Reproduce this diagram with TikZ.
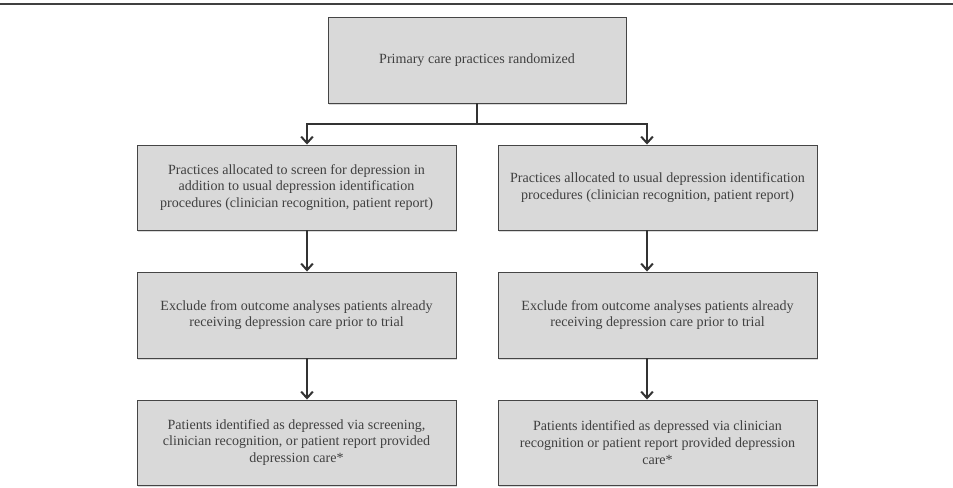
\documentclass[tikz,border=0pt]{standalone}
\usepackage{fontspec}
\setmainfont{Liberation Serif}
\usepackage{tikz}
\usetikzlibrary{arrows.meta,positioning,shadows,calc}

\definecolor{boxfill}{HTML}{D9D9D9}
\definecolor{boxline}{HTML}{454545}
\definecolor{boxtext}{HTML}{404040}

\begin{document}
\begin{tikzpicture}[x=0.03cm, y=-0.03cm,
		stagebox/.style={draw=boxline, line width=0.8pt, fill=boxfill, text=boxtext,
			minimum width=9.57cm, minimum height=2.55cm, inner sep=0pt, align=center,
			font=\fontsize{12}{14.2}\selectfont,
			drop shadow={shadow xshift=1.2pt, shadow yshift=-1.5pt, fill=black!25, opacity=0.6}},
		flow/.style={draw=black!80, line width=1.7pt, -{Straight Barb[length=5.5pt, width=10pt, line width=1.7pt]}}]
				% Frame and margins
				\useasboundingbox (0,0) rectangle (953,488);
				\draw[black!75, line width=1.1pt] (0,4) -- (953,4);
				
				% Randomization
				\node[stagebox, minimum width=8.94cm, minimum height=2.58cm] (rand) at (477,60) {Primary care practices randomized};
				\coordinate (split) at (477,124);
				
				% Screening arm
				\node[stagebox] (scrAlloc) at (296.5,187.5) {Practices allocated to screen for depression in\\addition to usual depression identification\\procedures (clinician recognition, patient report)};
				\node[stagebox, minimum height=2.58cm] (scrExcl) at (296.5,315) {Exclude from outcome analyses patients already\\receiving depression care prior to trial};
				\node[stagebox] (scrCare) at (296.5,442.5) {Patients identified as depressed via screening,\\clinician recognition, or patient report provided\\depression care*};
				
				% Usual care arm
				\node[stagebox] (usAlloc) at (657.5,187.5) {Practices allocated to usual depression identification\\procedures (clinician recognition, patient report)};
				\node[stagebox, minimum height=2.58cm] (usExcl) at (657.5,315) {Exclude from outcome analyses patients already\\receiving depression care prior to trial};
				\node[stagebox] (usCare) at (657.5,442.5) {Patients identified as depressed via clinician\\recognition or patient report provided depression\\care*};
				
				% Connectors
				\draw[flow, -] (rand.south) -- (split);
				\draw[flow] (split) -| ([xshift=0.315cm]scrAlloc.north);
				\draw[flow] (split) -| ([xshift=-0.315cm]usAlloc.north);
				\draw[flow] ([xshift=0.315cm]scrAlloc.south) -- ([xshift=0.315cm]scrExcl.north);
				\draw[flow] ([xshift=0.315cm]scrExcl.south) -- ([xshift=0.315cm]scrCare.north);
				\draw[flow] ([xshift=-0.315cm]usAlloc.south) -- ([xshift=-0.315cm]usExcl.north);
				\draw[flow] ([xshift=-0.315cm]usExcl.south) -- ([xshift=-0.315cm]usCare.north);
\end{tikzpicture}
\end{document}
